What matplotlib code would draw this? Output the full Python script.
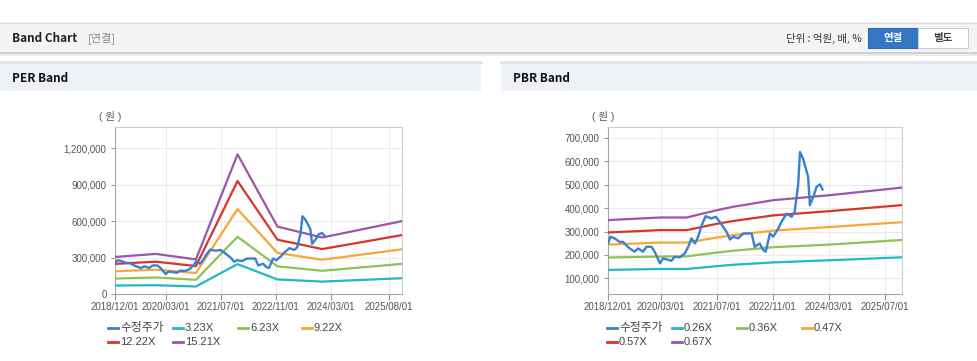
import numpy as np
import pandas as pd
import matplotlib
matplotlib.use('Agg')
import matplotlib.pyplot as plt
from matplotlib.lines import Line2D
from matplotlib.patches import Rectangle
from matplotlib.ticker import FuncFormatter

plt.rcParams['font.family'] = ['Noto Sans CJK KR', 'DejaVu Sans']
CHART_FONT = ['Liberation Sans', 'Noto Sans CJK KR', 'DejaVu Sans']

W, H = 978, 361

# 수정주가 (same price series in both charts)
price_dates = ['2018-12-01', '2018-12-22', '2019-01-28', '2019-03-10', '2019-04-10', '2019-05-07',
               '2019-06-07', '2019-07-20', '2019-08-20', '2019-10-01', '2019-11-01', '2019-12-13',
               '2020-01-10', '2020-02-25', '2020-03-22', '2020-04-22', '2020-06-04', '2020-07-01',
               '2020-08-16', '2020-09-28', '2020-10-28', '2020-11-25', '2020-12-25', '2021-01-22',
               '2021-02-22', '2021-03-28', '2021-05-16', '2021-06-25', '2021-07-28', '2021-09-25',
               '2021-10-25', '2021-11-22', '2022-01-04', '2022-02-18', '2022-03-20', '2022-05-01',
               '2022-05-28', '2022-07-10', '2022-08-10', '2022-09-01', '2022-10-07', '2022-11-04',
               '2022-12-19', '2023-01-16', '2023-03-01', '2023-04-13', '2023-05-10', '2023-06-10',
               '2023-06-25', '2023-07-22', '2023-08-07', '2023-09-04', '2023-09-19', '2023-10-19',
               '2023-11-16', '2023-12-16', '2024-01-07']
price = [249000, 278000, 271000, 256000, 256000, 242000,
         228000, 214000, 228000, 214000, 235000, 235000,
         214000, 164000, 185000, 181000, 175000, 192000,
         190000, 207000, 235000, 271000, 249000, 278000,
         327000, 366000, 356000, 363000, 342000, 299000,
         266000, 278000, 271000, 292000, 292000, 292000,
         235000, 249000, 221000, 214000, 292000, 278000,
         313000, 342000, 377000, 363000, 384000, 505000,
         640000, 612000, 583000, 534000, 413000, 448000,
         491000, 502000, 480000]

# PER band
per_dates = ['2018-12-01', '2019-12-01', '2020-11-20', '2021-11-25', '2022-11-15', '2023-12-18', '2025-11-27']
per_labels = ['3.23X', '6.23X', '9.22X', '12.22X', '15.21X']
per_bands = [
    [70000, 72000, 62000, 246000, 120000, 102000, 130000],
    [127000, 136000, 117000, 471000, 228000, 191000, 248000],
    [187000, 200000, 173000, 699000, 338000, 282000, 368000],
    [248000, 266000, 230000, 930000, 447000, 370000, 485000],
    [305000, 330000, 285000, 1150000, 555000, 465000, 600000],
]
per_xticks = ['2018-12-01', '2020-03-01', '2021-07-01', '2022-11-01', '2024-03-01', '2025-08-01']
per_yticks = [0, 300000, 600000, 900000, 1200000]

# PBR band
pbr_dates = ['2018-12-01', '2020-02-25', '2020-10-13', '2021-07-01', '2021-11-22', '2022-11-04', '2024-03-01', '2025-11-27']
pbr_labels = ['0.26X', '0.36X', '0.47X', '0.57X', '0.67X']
pbr_bands = [
    [136000, 140000, 140000, 152000, 158000, 168000, 177000, 190000],
    [189000, 193000, 194000, 210000, 218000, 233000, 244000, 264000],
    [244000, 253000, 253000, 274000, 285000, 304000, 319000, 340000],
    [296000, 306000, 306000, 333000, 345000, 369000, 387000, 413000],
    [349000, 360000, 360000, 391000, 406000, 434000, 455000, 488000],
]
pbr_xticks = ['2018-12-01', '2020-03-01', '2021-07-01', '2022-11-01', '2024-03-01', '2025-07-01']
pbr_yticks = [100000, 200000, 300000, 400000, 500000, 600000, 700000]

price_color = '#3a7fd2'
band_colors = ['#22b8c4', '#8cc256', '#f5a835', '#d8342c', '#9b55aa']


def fx(x):
    return x / W


def fy(y):
    return 1 - y / H


fig = plt.figure(figsize=(W / 100, H / 100), dpi=100)

# top header
fig.add_artist(Rectangle((0, fy(53)), 1, fy(22) - fy(53), transform=fig.transFigure,
                         facecolor='#f4f4f4', edgecolor='none'))
fig.add_artist(Line2D([0, 1], [fy(22.5)] * 2, transform=fig.transFigure, color='#dcdcdc', lw=1))
fig.add_artist(Line2D([0, 1], [fy(53)] * 2, transform=fig.transFigure, color='#c8c8c8', lw=1.2))
fig.add_artist(Line2D([0, 1], [fy(54.5)] * 2, transform=fig.transFigure, color='#e6e6e6', lw=1.2))
fig.text(fx(12), fy(38), 'Band Chart', fontsize=8.5, fontweight='bold', color='#222', va='center')
fig.text(fx(88), fy(38), '[연결]', fontsize=8, color='#888', va='center')
fig.text(fx(862), fy(38), '단위 : 억원, 배, %', fontsize=7.5, color='#333', va='center', ha='right')
fig.add_artist(Rectangle((fx(868), fy(48)), fx(50), fy(28) - fy(48), transform=fig.transFigure,
                         facecolor='#3476c2', edgecolor='#2f6bb0', lw=0.8))
fig.text(fx(893), fy(38), '연결', fontsize=7.5, fontweight='bold', color='white', va='center', ha='center')
fig.add_artist(Rectangle((fx(918), fy(48)), fx(50), fy(28) - fy(48), transform=fig.transFigure,
                         facecolor='white', edgecolor='#cccccc', lw=0.8))
fig.text(fx(943), fy(38), '별도', fontsize=7.5, fontweight='bold', color='#444', va='center', ha='center')

# panel headers
for x0, x1, title in [(0, 481, 'PER Band'), (501, 978, 'PBR Band')]:
    fig.add_artist(Rectangle((fx(x0), fy(91)), fx(x1 - x0), fy(63) - fy(91), transform=fig.transFigure,
                             facecolor='#eef2f7', edgecolor='none'))
    fig.add_artist(Line2D([fx(x0), fx(x1)], [fy(62)] * 2, transform=fig.transFigure, color='#e1e5ea', lw=2))
    fig.text(fx(x0 + 12), fy(78), title, fontsize=8.5, fontweight='bold', color='#111', va='center')


def draw_panel(left, right, dates, bands, labels, xticks, yticks, ylim, unit_x, leg_x):
    ax = fig.add_axes([fx(left), fy(294), fx(right - left), fy(127) - fy(294)])
    ax.plot(pd.to_datetime(price_dates), price, color=price_color, lw=1.7, zorder=5)
    d = pd.to_datetime(dates)
    for vals, c in zip(bands, band_colors):
        ax.plot(d, vals, color=c, lw=1.6, zorder=3)
    ax.set_xlim(pd.Timestamp('2018-12-01'), pd.Timestamp('2025-11-27'))
    ax.set_ylim(*ylim)
    xt = pd.to_datetime(xticks)
    ax.set_xticks(xt)
    ax.set_xticklabels([t.strftime('%Y/%m/%d') for t in xt])
    ax.set_yticks(yticks)
    ax.yaxis.set_major_formatter(FuncFormatter(lambda v, p: f'{int(v):,}'))
    ax.tick_params(axis='x', labelsize=7, colors='#555', length=4, width=0.8, pad=2, color='#999')
    ax.tick_params(axis='y', labelsize=7, colors='#555', length=3, width=0.8, pad=3, color='#999')
    for lab in ax.get_xticklabels() + ax.get_yticklabels():
        lab.set_family(CHART_FONT)
    ax.grid(True, color='#ebebeb', lw=0.8)
    ax.set_axisbelow(True)
    for s in ['top', 'right']:
        ax.spines[s].set_color('#d0d0d0')
    for s in ['left', 'bottom']:
        ax.spines[s].set_color('#a8a8a8')
    fig.text(fx(unit_x), fy(117), '( 원 )', fontsize=7.5, color='#555', va='center', ha='center',
             family=CHART_FONT)

    names = ['수정주가'] + labels
    colors = [price_color] + band_colors
    pos = [(leg_x[0], 328), (leg_x[1], 328), (leg_x[2], 328), (leg_x[3], 328),
           (leg_x[0], 342), (leg_x[1], 342)]
    for (lx, ly), name, c in zip(pos, names, colors):
        fig.add_artist(Line2D([fx(lx), fx(lx + 10)], [fy(ly)] * 2, transform=fig.transFigure,
                              color=c, lw=2))
        fig.text(fx(lx + 12), fy(ly), name, fontsize=8.5 if name == '수정주가' else 8,
                 color='#444', va='center', family=CHART_FONT)
    return ax


draw_panel(115, 402, per_dates, per_bands, per_labels, per_xticks, per_yticks,
           (0, 1375000), 110, [108, 173, 238, 302])
draw_panel(608, 902, pbr_dates, pbr_bands, pbr_labels, pbr_xticks, pbr_yticks,
           (33000, 747000), 603, [607, 672, 737, 802])

fig.savefig('out.png', dpi=100, facecolor='white')
